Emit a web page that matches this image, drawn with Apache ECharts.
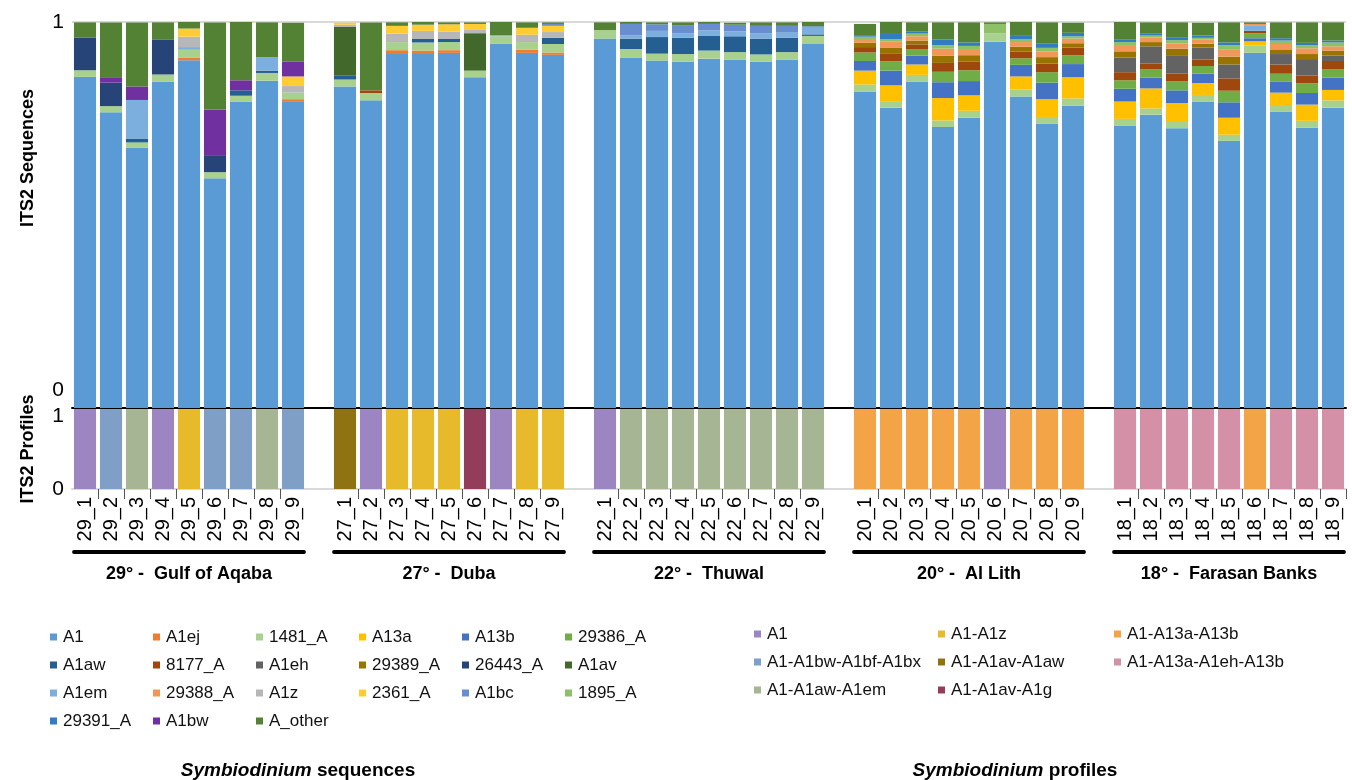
<!DOCTYPE html>
<html>
<head>
<meta charset="utf-8">
<script src="https://cdn.jsdelivr.net/npm/echarts@6/dist/echarts.min.js"></script>
<style>
html, body { margin: 0; padding: 0; background: #fff; }
#main { width: 1352px; height: 780px; }
</style>
</head>
<body>
<div id="main"></div>
<script>
// samples, grouped by site (9 per site)
const samples = [
  '29_1','29_2','29_3','29_4','29_5','29_6','29_7','29_8','29_9',
  '27_1','27_2','27_3','27_4','27_5','27_6','27_7','27_8','27_9',
  '22_1','22_2','22_3','22_4','22_5','22_6','22_7','22_8','22_9',
  '20_1','20_2','20_3','20_4','20_5','20_6','20_7','20_8','20_9',
  '18_1','18_2','18_3','18_4','18_5','18_6','18_7','18_8','18_9'
];
const siteLabels = ['29° -  Gulf of Aqaba', '27° -  Duba', '22° -  Thuwal', '20° -  Al Lith', '18° -  Farasan Banks'];

// ITS2 sequence names (stack order, bottom to top) and colours
const seqNames = ['A1','A1ej','1481_A','A13a','A13b','29386_A','A1aw','8177_A','A1eh','29389_A','26443_A','A1av',
  'A1em','29388_A','A1z','2361_A','A1bc','1895_A','29391_A','A1bw','A_other'];
const seqColors = ['#5B9BD5','#ED7D31','#A9D18E','#FFC000','#4472C4','#70AD47','#255E91','#9E480E','#636363','#997300','#264478','#43682B',
  '#7CAFDD','#F1975A','#B7B7B7','#FFCD33','#698ED0','#8CC168','#327DC2','#7030A0','#548235'];

const seqA1 = [
  0.858,0.766,0.674,0.845,0.901,0.595,0.793,0.848,0.793,
  0.833,0.797,0.917,0.917,0.920,0.857,0.944,0.920,0.915,
  0.957,0.908,0.900,0.897,0.905,0.902,0.897,0.902,0.943,
  0.819,0.778,0.845,0.728,0.752,0.949,0.807,0.736,0.783,
  0.731,0.760,0.725,0.794,0.692,0.920,0.768,0.726,0.778];
const seqA1ej = [
  0,0,0,0,0.007,0,0,0,0.007,
  0,0,0.010,0.009,0.007,0,0,0.008,0.006,
  0,0,0,0,0,0,0,0,0,
  0,0,0,0,0,0,0,0,0,
  0,0,0,0,0,0,0,0,0];
const seq1481A = [
  0.017,0.016,0.014,0.019,0.020,0.016,0.016,0.020,0.017,
  0.018,0.019,0.021,0.021,0.021,0.017,0.019,0.020,0.022,
  0.022,0.022,0.018,0.020,0.021,0.020,0.019,0.020,0.021,
  0.019,0.017,0.018,0.017,0.018,0.022,0.018,0.018,0.019,
  0.018,0.016,0.016,0.017,0.016,0.019,0.017,0.018,0.019];
const seqA13a = [
  0,0,0,0,0,0,0,0,0,
  0,0,0,0,0,0,0,0,0,
  0,0,0,0,0,0,0,0,0,
  0.036,0.041,0.027,0.058,0.040,0,0.034,0.046,0.055,
  0.045,0.052,0.049,0.031,0.044,0.011,0.032,0.042,0.027];
const seqA13b = [
  0,0,0,0,0,0,0,0,0,
  0,0,0,0,0,0,0,0,0,
  0,0,0,0,0,0,0,0,0,
  0.025,0.038,0.023,0.041,0.037,0,0.030,0.043,0.034,
  0.033,0.028,0.033,0.024,0.040,0.008,0.028,0.030,0.032];
const seq29386A = [
  0,0,0,0,0,0,0,0,0,
  0,0,0,0,0,0,0,0,0,
  0,0,0,0,0,0,0,0,0,
  0.022,0.024,0.017,0.027,0.028,0,0.017,0.027,0.023,
  0.022,0.022,0.023,0.020,0.030,0.013,0.021,0.025,0.021];
const seqA1aw = [
  0,0,0.009,0,0,0,0.014,0.006,0,
  0.011,0,0,0.009,0.008,0,0,0,0.016,
  0,0.027,0.043,0.042,0.039,0.041,0.041,0.037,0.004,
  0,0,0,0,0,0,0,0,0,
  0,0,0,0,0,0,0,0,0];
const seq8177A = [
  0,0,0,0,0,0,0,0,0,
  0,0.007,0,0,0,0,0,0,0,
  0,0,0,0,0,0,0,0,0,
  0.014,0.021,0.012,0.023,0.022,0,0.017,0.022,0.020,
  0.021,0.014,0.021,0.017,0.032,0.006,0.024,0.020,0.022];
const seqA1eh = [
  0,0,0,0,0,0,0,0,0,
  0,0,0,0,0,0,0,0,0,
  0,0,0,0,0,0,0,0,0,
  0,0,0,0,0,0,0,0,0,
  0.038,0.045,0.047,0.031,0.036,0,0.027,0.043,0.014];
const seq29389A = [
  0,0,0,0,0,0,0,0,0,
  0,0,0,0,0,0,0,0,0,
  0,0,0,0,0,0,0,0,0,
  0.011,0.015,0.010,0.019,0.017,0,0.013,0.017,0.011,
  0.016,0.011,0.017,0.010,0.020,0,0.012,0.013,0.013];
const seq26443A = [
  0.085,0.061,0,0.091,0,0.044,0,0,0,
  0,0,0,0,0,0,0,0,0,
  0,0,0,0,0,0,0,0,0,
  0,0,0,0,0,0,0,0,0,
  0,0,0,0,0,0,0,0,0];
const seqA1av = [
  0,0,0,0,0,0,0,0,0,
  0.125,0,0,0,0,0.097,0,0,0,
  0,0,0,0,0,0,0,0,0,
  0,0,0,0,0,0,0,0,0,
  0,0,0,0,0,0,0,0,0];
const seqA1em = [
  0,0,0.101,0,0.007,0,0,0.035,0,
  0,0,0,0,0,0,0.003,0,0,
  0,0.008,0.016,0.012,0.013,0.013,0.013,0.015,0.019,
  0,0,0,0,0,0,0,0,0,
  0,0,0,0,0,0.013,0,0,0];
const seq29388A = [
  0,0,0,0,0,0,0,0,0,
  0,0,0,0,0,0,0,0,0,
  0,0,0,0,0,0,0,0,0,
  0.010,0.015,0.011,0.018,0.016,0,0.012,0.015,0.012,
  0.014,0.012,0.013,0.011,0.018,0.005,0.014,0.015,0.011];
const seqA1z = [
  0,0,0,0,0.027,0,0,0,0.017,
  0.006,0,0.022,0.021,0.019,0.010,0,0.019,0.015,
  0,0,0,0,0,0,0,0,0,
  0,0,0,0,0,0,0,0,0,
  0,0,0,0,0,0,0,0,0];
const seq2361A = [
  0,0,0,0,0.021,0,0,0,0.025,
  0.005,0,0.020,0.016,0.019,0.014,0,0.018,0.016,
  0,0,0,0,0,0,0,0,0,
  0,0,0,0,0,0,0,0,0,
  0,0,0,0,0,0,0,0,0];
const seqA1bc = [
  0,0,0,0,0,0,0,0,0,
  0,0,0,0,0,0,0,0,0.005,
  0,0.030,0.017,0.021,0.017,0.017,0.020,0.016,0.002,
  0,0,0,0,0,0,0,0,0,
  0,0,0,0,0,0,0,0,0];
const seq1895A = [
  0,0,0,0,0,0,0,0,0,
  0,0,0,0,0,0,0,0,0,
  0,0,0,0,0,0,0,0,0,
  0.006,0.007,0.007,0.009,0.008,0.024,0.007,0.009,0.006,
  0.010,0.005,0.009,0.004,0.012,0,0.009,0.008,0.010];
const seq29391A = [
  0,0,0,0,0,0,0,0,0,
  0,0,0,0,0,0,0,0,0,
  0,0,0,0,0,0,0,0,0,
  0.004,0.013,0.006,0.015,0.009,0,0.009,0.012,0.009,
  0.006,0.006,0.006,0.006,0.007,0,0.006,0.006,0.005];
const seqA1bw = [
  0,0.014,0.035,0,0,0.118,0.026,0,0.039,
  0,0,0,0,0,0,0,0,0,
  0,0,0,0,0,0,0,0,0,
  0,0,0,0,0,0,0,0,0,
  0,0,0,0,0,0,0,0,0];
const seqAother = [
  0.039,0.142,0.166,0.044,0.017,0.226,0.151,0.090,0.100,
  0,0.176,0.009,0.007,0.005,0.004,0.036,0.014,0.004,
  0.020,0.005,0.005,0.007,0.005,0.005,0.009,0.009,0.012,
  0.029,0.031,0.023,0.044,0.052,0.004,0.036,0.054,0.026,
  0.046,0.028,0.040,0.033,0.052,0.004,0.041,0.053,0.047];

const seqValues = [seqA1, seqA1ej, seq1481A, seqA13a, seqA13b, seq29386A, seqA1aw, seq8177A, seqA1eh, seq29389A,
  seq26443A, seqA1av, seqA1em, seq29388A, seqA1z, seq2361A, seqA1bc, seq1895A, seq29391A, seqA1bw, seqAother];

// ITS2 type profiles
const profNames = ['A1','A1-A1bw-A1bf-A1bx','A1-A1aw-A1em','A1-A1z','A1-A1av-A1aw','A1-A1av-A1g','A1-A13a-A13b','A1-A13a-A1eh-A13b'];
const profColors = ['#9D85C2','#7F9FC6','#A6B593','#E6BA2A','#8F7212','#943D5B','#F2A447','#D390A6'];
const sampleProfile = [
  'A1','A1-A1bw-A1bf-A1bx','A1-A1aw-A1em','A1','A1-A1z','A1-A1bw-A1bf-A1bx','A1-A1bw-A1bf-A1bx','A1-A1aw-A1em','A1-A1bw-A1bf-A1bx',
  'A1-A1av-A1aw','A1','A1-A1z','A1-A1z','A1-A1z','A1-A1av-A1g','A1','A1-A1z','A1-A1z',
  'A1','A1-A1aw-A1em','A1-A1aw-A1em','A1-A1aw-A1em','A1-A1aw-A1em','A1-A1aw-A1em','A1-A1aw-A1em','A1-A1aw-A1em','A1-A1aw-A1em',
  'A1-A13a-A13b','A1-A13a-A13b','A1-A13a-A13b','A1-A13a-A13b','A1-A13a-A13b','A1','A1-A13a-A13b','A1-A13a-A13b','A1-A13a-A13b',
  'A1-A13a-A1eh-A13b','A1-A13a-A1eh-A13b','A1-A13a-A1eh-A13b','A1-A13a-A1eh-A13b','A1-A13a-A1eh-A13b','A1-A13a-A13b','A1-A13a-A1eh-A13b','A1-A13a-A1eh-A13b','A1-A13a-A1eh-A13b'
];

// an empty slot between sites on the category axis
const slots = [];
samples.forEach((s, i) => {
  if (i > 0 && i % 9 === 0) slots.push('gap' + i);
  slots.push(s);
});
function spread(arr) {
  const out = [];
  arr.forEach((v, i) => {
    if (i > 0 && i % 9 === 0) out.push('-');
    out.push(v);
  });
  return out;
}
const siteAt = {};
siteLabels.forEach((t, k) => { siteAt[samples[k * 9 + 4]] = t; });

const FONT = '"Liberation Sans", Arial, Helvetica, sans-serif';

const series = [];
seqNames.forEach((n, i) => {
  series.push({
    name: n, type: 'bar', stack: 'seq', xAxisIndex: 0, yAxisIndex: 0,
    barCategoryGap: '15%', itemStyle: { color: seqColors[i] },
    data: spread(seqValues[i].map(v => v === 0 ? '-' : v))
  });
});
profNames.forEach((n, i) => {
  series.push({
    name: n, type: 'bar', stack: 'prof', xAxisIndex: 1, yAxisIndex: 1,
    barCategoryGap: '15%', itemStyle: { color: profColors[i] },
    data: spread(sampleProfile.map(p => p === n ? 1 : '-'))
  });
});

// legends laid out in columns
const legends = [];
const seqCols = [50, 153, 256, 359, 462, 565];
seqCols.forEach((x, c) => {
  const items = seqNames.filter((_, i) => i % 6 === c).map(n => ({
    name: n, itemStyle: { color: seqColors[seqNames.indexOf(n)] }
  }));
  legends.push({
    orient: 'vertical', left: x, top: 628, padding: 0, itemGap: 10, itemWidth: 7, itemHeight: 7,
    icon: 'rect', selectedMode: false, data: items,
    textStyle: { fontSize: 17, lineHeight: 18, color: '#111', fontFamily: FONT, padding: [0, 0, 0, 1] }
  });
});
const profCols = [[0, 1, 2], [3, 4, 5], [6, 7]];
const profX = [754, 938, 1114];
profCols.forEach((idx, c) => {
  legends.push({
    orient: 'vertical', left: profX[c], top: 625, padding: 0, itemGap: 10, itemWidth: 7, itemHeight: 7,
    icon: 'rect', selectedMode: false,
    data: idx.map(i => ({ name: profNames[i], itemStyle: { color: profColors[i] } })),
    textStyle: { fontSize: 17, lineHeight: 18, color: '#111', fontFamily: FONT, padding: [0, 0, 0, 1] }
  });
});

const titleStyle = { fontSize: 19, fontWeight: 'bold', color: '#000',
  rich: { i: { fontSize: 19, fontWeight: 'bold', fontStyle: 'italic', color: '#000' } } };

const chart = echarts.init(document.getElementById('main'));
chart.setOption({
  animation: false,
  textStyle: { fontFamily: FONT },
  title: [
    { text: '{i|Symbiodinium} sequences', left: 293, top: 756, textAlign: 'center', textStyle: titleStyle },
    { text: '{i|Symbiodinium} profiles', left: 1010, top: 756, textAlign: 'center', textStyle: titleStyle }
  ],
  legend: legends,
  grid: [
    { left: 72, right: 6, top: 22, height: 386, outerBoundsMode: 'none' },
    { left: 72, right: 6, top: 409, height: 80, outerBoundsMode: 'none' }
  ],
  xAxis: [
    { type: 'category', gridIndex: 0, data: slots,
      axisLine: { lineStyle: { color: '#000', width: 2 } },
      axisTick: { show: false }, axisLabel: { show: false } },
    { type: 'category', gridIndex: 1, data: slots,
      axisLine: { lineStyle: { color: '#d9d9d9', width: 2 } },
      axisTick: { show: true, length: 10, lineStyle: { color: '#555' },
        interval: (i, v) => !v.startsWith('gap') && !v.endsWith('_1') },
      axisLabel: { interval: 0, rotate: 90, fontSize: 20, color: '#000', margin: 8,
        formatter: v => v.startsWith('gap') ? '' : v } },
    { type: 'category', gridIndex: 1, data: slots, position: 'bottom',
      axisLine: { show: false }, axisTick: { show: false },
      axisLabel: { interval: 0, margin: 76, fontSize: 18, fontWeight: 'bold', color: '#000',
        formatter: v => siteAt[v] || '' } }
  ],
  yAxis: [
    { type: 'value', gridIndex: 0, min: 0, max: 1, interval: 1,
      name: 'ITS2 Sequences', nameLocation: 'middle', nameRotate: 90, nameGap: 35, nameMoveOverlap: false,
      nameTextStyle: { fontSize: 18, fontWeight: 'bold', color: '#000', padding: [0, 0, 0, 114] },
      axisLine: { show: false }, axisTick: { show: false },
      splitLine: { lineStyle: { color: '#d9d9d9', width: 2 } },
      axisLabel: { margin: 8, color: '#000',
        formatter: v => v === 0 ? '{lo|0}' : '{n|1}',
        rich: { lo: { fontSize: 21, color: '#000', padding: [0, 0, 36, 0] }, n: { fontSize: 21, color: '#000' } } } },
    { type: 'value', gridIndex: 1, min: 0, max: 1, interval: 1,
      name: 'ITS2 Profiles', nameLocation: 'middle', nameRotate: 90, nameGap: 35, nameMoveOverlap: false,
      nameTextStyle: { fontSize: 18, fontWeight: 'bold', color: '#000' },
      axisLine: { show: false }, axisTick: { show: false }, splitLine: { show: false },
      axisLabel: { margin: 8, color: '#000',
        formatter: v => v === 1 ? '{hi|1}' : '{n|0}',
        rich: { hi: { fontSize: 21, color: '#000', padding: [14, 0, 0, 0] }, n: { fontSize: 21, color: '#000' } } } }
  ],
  series: series
});

// site underlines, placed from the category axis
const lines = [];
const step = chart.convertToPixel({ xAxisIndex: 1 }, samples[1]) - chart.convertToPixel({ xAxisIndex: 1 }, samples[0]);
const yLine = chart.convertToPixel({ yAxisIndex: 1 }, 0) + 63;
siteLabels.forEach((t, k) => {
  const x1 = chart.convertToPixel({ xAxisIndex: 1 }, samples[k * 9]) - step * 0.42;
  const x2 = chart.convertToPixel({ xAxisIndex: 1 }, samples[k * 9 + 8]) + step * 0.42;
  lines.push({ type: 'line', shape: { x1: x1, y1: yLine, x2: x2, y2: yLine },
    style: { stroke: '#000', lineWidth: 4, lineCap: 'round' } });
});
chart.setOption({ graphic: lines });
</script>
</body>
</html>
